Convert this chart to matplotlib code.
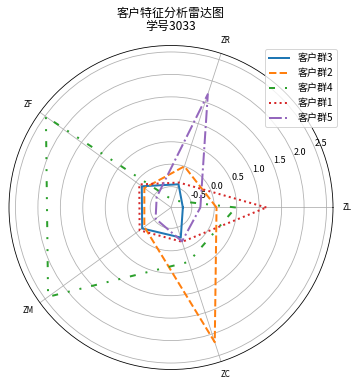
import numpy as np
import matplotlib
matplotlib.use("Agg")
import matplotlib.pyplot as plt

plt.rcParams['font.family'] = ['Noto Sans CJK SC', 'DejaVu Sans']
plt.rcParams['axes.unicode_minus'] = False

features = ['ZL', 'ZR', 'ZF', 'ZM', 'ZC']
group_names = ['客户群3', '客户群2', '客户群4', '客户群1', '客户群5']
g3 = [-0.70, -0.42, -0.16, -0.17, -0.26]
g2 = [0.05, 0.00, -0.23, -0.23, 2.19]
g4 = [0.48, -0.80, 2.48, 2.42, 0.31]
g1 = [1.16, -0.38, -0.09, -0.10, -0.16]
g5 = [-0.31, 1.69, -0.57, -0.54, -0.17]
series = [g3, g2, g4, g1, g5]
styles = ['-', '--', (0, (3, 5, 1, 5, 1, 5)), ':', '-.']

n = len(features)
angles = np.linspace(0, 2 * np.pi, n, endpoint=False)
angles_closed = np.concatenate([angles, angles[:1]])

fig = plt.figure(figsize=(359 / 72, 387 / 72), dpi=72)
ax = fig.add_axes([9 / 359, 1 - 369.5 / 387, 324 / 359, 324 / 387], polar=True)

for name, vals, ls in zip(group_names, series, styles):
    v = np.concatenate([vals, vals[:1]])
    ax.plot(angles_closed, v, linestyle=ls, linewidth=2, label=name)

allv = np.concatenate(series)
lo, hi = allv.min(), allv.max()
pad = 0.05 * (hi - lo)
ax.set_ylim(lo - pad, hi + pad)
ax.set_yticks([-0.5, 0.0, 0.5, 1.0, 1.5, 2.0, 2.5])
ax.set_yticklabels(['-0.5', '0.0', '0.5', '1.0', '1.5', '2.0', '2.5'], fontsize=9)
ax.set_thetagrids(np.degrees(angles), features, fontsize=8)

ax.set_title('客户特征分析雷达图\n学号3033', fontsize=12, linespacing=0.95)
ax.legend(loc='upper right', bbox_to_anchor=(337 / 359, 1 - 49.3 / 387),
          bbox_transform=fig.transFigure, borderaxespad=0, fontsize=10)

fig.savefig('out.png', dpi=72)
